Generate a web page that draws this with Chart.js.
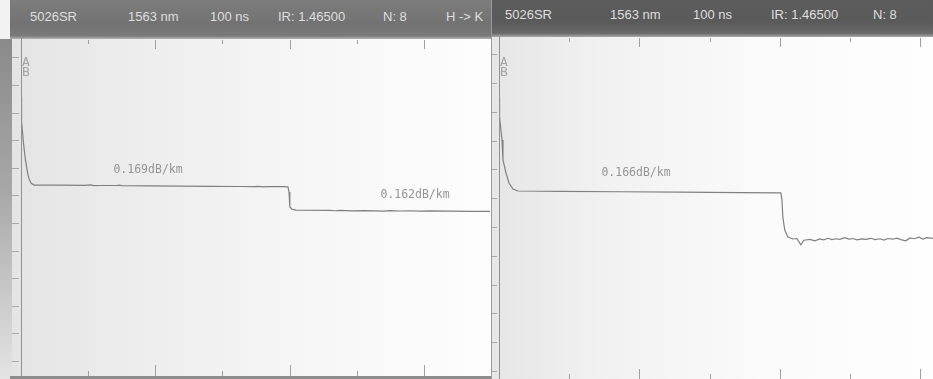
<!DOCTYPE html>
<html>
<head>
<meta charset="utf-8">
<script src="https://cdn.jsdelivr.net/npm/chart.js@4/dist/chart.umd.min.js"></script>
<style>
  html, body { margin: 0; padding: 0; }
  body { width: 933px; height: 379px; position: relative; overflow: hidden; background: #f4f4f4; }
  .abs { position: absolute; }
  .hdr { position: absolute; top: 0; height: 38px; overflow: hidden; }
  .hdr span { position: absolute; top: 10px; font: 13px "Liberation Sans", Arial, sans-serif; color: #dedede; white-space: pre; line-height: 14px; }
  canvas { position: absolute; top: 0; }
</style>
</head>
<body>
<!-- bezel strip and screen backgrounds -->
<div class="abs" style="left:0;top:0;width:11px;height:40px;background:#f2f2f2"></div>
<div class="abs" style="left:0;top:39px;width:12px;height:340px;background:linear-gradient(to bottom,#8a8a8a,#a8a8a8 45%,#e4e4e4)"></div>
<div class="abs" style="left:12px;top:38px;width:479px;height:338px;background:linear-gradient(to right,#e4e4e4,#eeeeee 30%,#f7f7f7 65%,#fdfdfd)"></div>
<div class="abs" style="left:10px;top:376px;width:481px;height:3px;background:#8c8c8c"></div>
<div class="abs" style="left:491px;top:0;width:1px;height:379px;background:#9a9a9a"></div>
<div class="abs" style="left:492px;top:36px;width:441px;height:343px;background:linear-gradient(to right,#e6e6e6,#f1f1f1 25%,#fafafa 60%,#fefefe)"></div>

<div class="hdr" id="hdrL" style="left:10px;width:481px;height:39px;background:linear-gradient(to bottom,#7d7d7d,#727272 60%,#7a7a7a 92%,#b5b5b5)"></div>
<div class="hdr" id="hdrR" style="left:492px;width:441px;height:37px;background:linear-gradient(to bottom,#5c5c5c,#5a5a5a 60%,#6a6a6a 90%,#a9a9a9)"></div>

<canvas id="traceL" width="482" height="379" style="left:10px"></canvas>
<canvas id="traceR" width="441" height="379" style="left:492px"></canvas>

<script>
// Instrument settings shown in the header bar of each screen
const headerFields = ['5026SR', '1563 nm', '100 ns', 'IR: 1.46500', 'N: 8'];
const directionLeft = 'H -> K';

// Trace 1 (left screen): distance in km, backscatter level in dB
const leftDistKm = [0, 0.0011, 0.0030, 0.0060, 0.0093, 0.0130, 0.0168, 0.0216, 0.0261, 0.0316,
  0.0372, 0.0484, 0.145, 0.238, 0.257, 0.272, 0.294, 0.357, 0.365, 0.376,
  0.480, 0.592, 0.704, 0.815, 0.867, 0.882, 0.901, 0.920, 0.975, 0.994,
  0.998, 1.001, 1.009, 1.024, 1.150, 1.169, 1.188, 1.232, 1.281, 1.348,
  1.374, 1.411, 1.448, 1.485, 1.523, 1.597, 1.672, 1.746];
const leftLevelDb = [23.91, 22.73, 21.64, 20.65, 19.74, 18.93, 18.20, 17.48, 16.84, 16.39,
  16.12, 15.94, 15.93, 15.91, 15.95, 15.89, 15.90, 15.90, 15.93, 15.88,
  15.86, 15.84, 15.82, 15.81, 15.79, 15.82, 15.77, 15.80, 15.80, 15.78,
  15.30, 13.95, 13.76, 13.67, 13.64, 13.61, 13.65, 13.60, 13.63, 13.58,
  13.62, 13.59, 13.61, 13.58, 13.60, 13.57, 13.56, 13.55];
const leftSlopes = [0.169, 0.162];   // dB/km of the two fibre sections

// Trace 2 (right screen)
const rightDistKm = [0, 0.002, 0.0107, 0.0142, 0.0249, 0.0356, 0.0499, 0.0677, 0.217, 0.431,
  0.645, 0.858, 1.004, 1.008, 1.011, 1.018, 1.029, 1.047, 1.061, 1.075,
  1.086, 1.108, 1.125, 1.143, 1.157, 1.172, 1.186, 1.200, 1.214, 1.232,
  1.246, 1.261, 1.275, 1.293, 1.307, 1.325, 1.339, 1.357, 1.371, 1.385,
  1.403, 1.417, 1.432, 1.449, 1.464, 1.478, 1.496, 1.510, 1.524, 1.546];
const rightLevelDb = [23.78, 22.05, 20.05, 18.32, 17.19, 16.32, 15.80, 15.625, 15.60, 15.56,
  15.53, 15.49, 15.47, 14.84, 13.37, 12.24, 11.63, 11.46, 11.50, 10.95,
  11.35, 11.42, 11.30, 11.47, 11.38, 11.52, 11.40, 11.48, 11.43, 11.58,
  11.45, 11.50, 11.38, 11.47, 11.42, 11.52, 11.40, 11.48, 11.37, 11.50,
  11.44, 11.53, 11.40, 11.30, 11.55, 11.48, 11.62, 11.45, 11.58, 11.52];
const rightSlopes = [0.166];

// Screen divisions
const kmPerDiv = 0.25;
const dbPerDiv = 2.5;

// Header text
function fillHeader(id, xs, extra) {
  const el = document.getElementById(id);
  const items = headerFields.map((t, i) => [t, xs[i]]);
  if (extra) items.push(extra);
  items.forEach(([t, x]) => {
    const s = document.createElement('span');
    s.textContent = t;
    s.style.left = x + 'px';
    el.appendChild(s);
  });
}
fillHeader('hdrL', [20, 118, 200, 268, 373], [directionLeft, 436]);
fillHeader('hdrR', [13, 118, 201, 279, 381]);
document.querySelectorAll('#hdrR span').forEach(s => s.style.top = '8px');

// Draws the screen furniture: axis line, division ticks, marker letters, slope labels
const screenPlugin = {
  id: 'screen',
  afterDatasetsDraw(chart, args, opts) {
    const { ctx, chartArea: a, scales: { x, y } } = chart;
    ctx.save();
    ctx.strokeStyle = '#929292';
    ctx.lineWidth = 1;
    // vertical axis
    ctx.beginPath();
    ctx.moveTo(a.left + 0.5, a.top - 4);
    ctx.lineTo(a.left + 0.5, a.bottom);
    ctx.stroke();
    // distance ticks, top and bottom
    ctx.strokeStyle = '#a0a0a0';
    for (let i = 1; i * kmPerDiv <= x.max + 1e-9; i++) {
      const px = Math.round(x.getPixelForValue(i * kmPerDiv)) + 0.5;
      const major = i % 2 === 0;
      ctx.beginPath();
      ctx.moveTo(px, a.top);
      ctx.lineTo(px, a.top + (major ? 9 : 4));
      ctx.moveTo(px, a.bottom);
      ctx.lineTo(px, a.bottom - (major ? opts.bottomMajor : 5));
      ctx.stroke();
    }
    // level ticks at the left
    ctx.strokeStyle = '#a8a8a8';
    for (let v = Math.ceil(y.min / dbPerDiv) * dbPerDiv; v <= y.max; v += dbPerDiv) {
      const py = Math.round(y.getPixelForValue(v)) + 0.5;
      ctx.beginPath();
      ctx.moveTo(a.left - opts.tickOut, py);
      ctx.lineTo(a.left - 2, py);
      ctx.stroke();
    }
    // marker letters
    ctx.fillStyle = '#a4a4a4';
    ctx.font = '13px "DejaVu Sans Mono", monospace';
    ctx.textAlign = 'left';
    ctx.textBaseline = 'middle';
    ctx.fillText('A', a.left + 1, 63);
    ctx.fillText('B', a.left + 1, 73);
    // section slope labels
    ctx.fillStyle = '#959595';
    ctx.font = '11.5px "DejaVu Sans Mono", monospace';
    ctx.textAlign = 'center';
    opts.labels.forEach(l => {
      ctx.fillText(l.text, x.getPixelForValue(l.x), y.getPixelForValue(l.y));
    });
    ctx.restore();
  }
};

function traceChart(id, dist, level, xMax, yMin, yMax, padding, labels, bottomMajor, tickOut) {
  return new Chart(document.getElementById(id), {
    type: 'line',
    data: {
      datasets: [{
        data: dist.map((d, i) => ({ x: d, y: level[i] })),
        borderColor: '#808080',
        borderWidth: 1.2,
        pointRadius: 0,
        tension: 0,
        fill: false
      }]
    },
    options: {
      responsive: false,
      animation: false,
      devicePixelRatio: 1,
      layout: { padding },
      scales: {
        x: { type: 'linear', min: 0, max: xMax, display: false },
        y: { type: 'linear', min: yMin, max: yMax, display: false }
      },
      plugins: {
        legend: { display: false },
        tooltip: { enabled: false },
        screen: { labels, bottomMajor, tickOut }
      }
    },
    plugins: [screenPlugin]
  });
}

const fmt = s => s.toFixed(3) + 'dB/km';

traceChart('traceL', leftDistKm, leftLevelDb, 1.75, -1.36, 29.08,
  { left: 11, right: 1, top: 40, bottom: 3 },
  [{ text: fmt(leftSlopes[0]), x: 0.473, y: 17.30 },
   { text: fmt(leftSlopes[1]), x: 1.467, y: 15.04 }], 11, 9);

traceChart('traceR', rightDistKm, rightLevelDb, 1.546, -0.694, 28.906,
  { left: 7, right: 0, top: 38, bottom: 0 },
  [{ text: fmt(rightSlopes[0]), x: 0.488, y: 17.19 }], 10, 7);
</script>
</body>
</html>
